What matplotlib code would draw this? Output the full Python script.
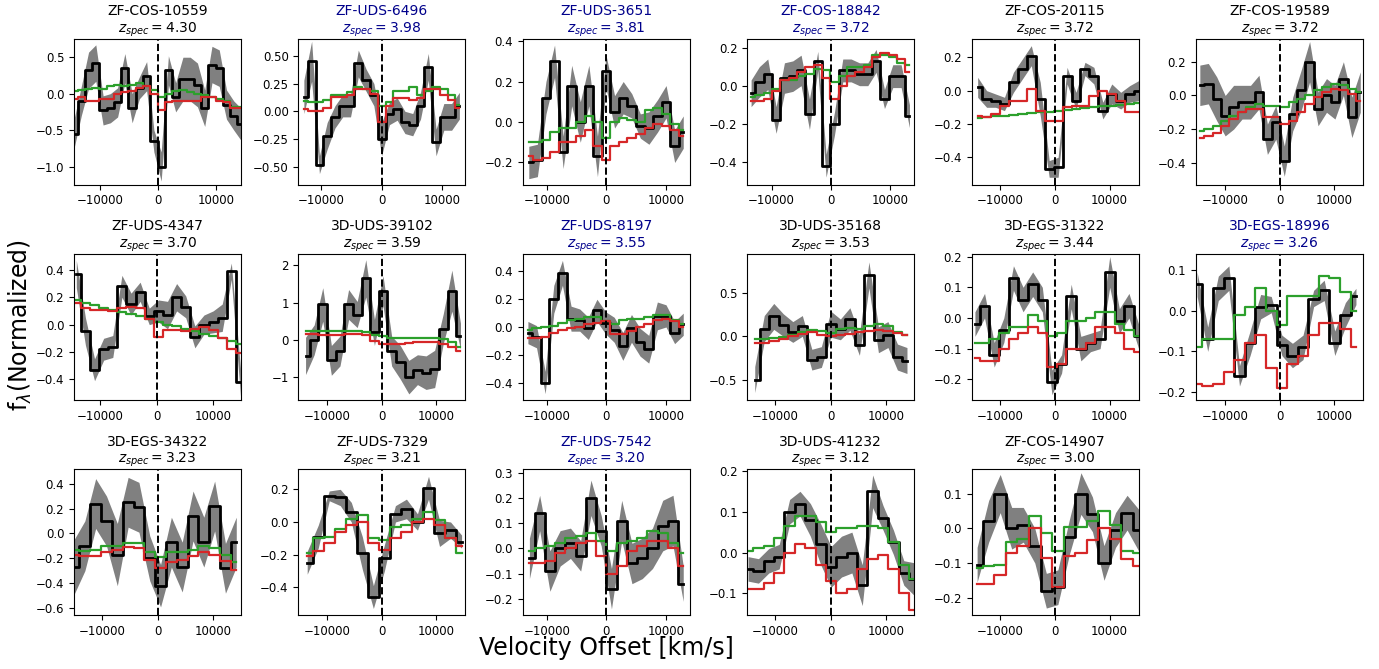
import numpy as np
import matplotlib
matplotlib.use("Agg")
import matplotlib.pyplot as plt

# object names, redshifts, and which ones are highlighted in blue
names = ["ZF-COS-10559", "ZF-UDS-6496", "ZF-UDS-3651", "ZF-COS-18842", "ZF-COS-20115", "ZF-COS-19589",
         "ZF-UDS-4347", "3D-UDS-39102", "ZF-UDS-8197", "3D-UDS-35168", "3D-EGS-31322", "3D-EGS-18996",
         "3D-EGS-34322", "ZF-UDS-7329", "ZF-UDS-7542", "3D-UDS-41232", "ZF-COS-14907"]
zspec = [4.30, 3.98, 3.81, 3.72, 3.72, 3.72, 3.70, 3.59, 3.55, 3.53, 3.44, 3.26, 3.23, 3.21, 3.20, 3.12, 3.00]
highlight = [False, True, True, True, False, False, False, False, True, False, False, True,
             False, False, True, False, False]

# first / last velocity bin of each spectrum [km/s]
v_first = [-14400, -12900, -13000, -13450, -14100, -14700, -14200, -13900, -13150,
           -13650, -14600, -15200, -15000, -13600, -12900, -14850, -14200]
v_last = [14200, 12900, 12900, 13300, 15300, 14900, 14800, 14400, 12900,
          13700, 15300, 14100, 14100, 14600, 12900, 15000, 15300]

# observed stacked flux (black) per object
flux = [
    [-0.55, -0.1, 0.32, 0.42, -0.23, -0.2, -0.12, 0.35, -0.2, 0.08, 0.24, -0.65, -1.0, 0.32, -0.05, 0.2, 0.2, 0.12, -0.2, 0.4, 0.35, -0.15, -0.3, -0.42],
    [0.13, 0.45, -0.48, -0.22, -0.05, 0.05, 0.05, 0.43, 0.28, 0.15, -0.25, -0.02, 0.02, -0.1, -0.12, 0.05, 0.4, -0.28, -0.05, -0.05, 0.05],
    [-0.2, -0.19, 0.12, 0.3, -0.15, 0.18, 0.0, 0.18, -0.17, 0.25, 0.05, 0.12, 0.08, -0.02, -0.03, 0.03, 0.1, -0.12, -0.05],
    [-0.04, 0.02, 0.06, -0.18, 0.04, 0.05, 0.08, -0.15, 0.13, -0.42, -0.2, 0.08, 0.08, 0.06, 0.06, 0.13, -0.07, 0.05, 0.05, -0.16],
    [0.02, -0.05, -0.06, -0.08, 0.05, 0.13, 0.21, -0.05, -0.47, -0.46, 0.09, -0.06, 0.13, 0.09, -0.12, -0.02, -0.06, -0.02, 0.0],
    [0.06, 0.07, -0.02, -0.12, -0.07, -0.04, -0.04, 0.02, -0.26, -0.16, -0.39, -0.11, 0.03, 0.2, -0.08, 0.0, -0.04, 0.1, -0.13, 0.02],
    [0.37, -0.05, -0.33, -0.18, -0.16, 0.28, 0.15, 0.24, 0.06, 0.1, 0.07, 0.2, 0.13, -0.09, 0.0, 0.02, 0.05, 0.39, -0.42],
    [-0.43, 0.0, 0.95, -0.55, -0.3, 0.95, 0.68, 1.65, 0.2, 1.32, -0.3, -0.6, -1.0, -0.8, -0.88, -0.78, 0.3, 1.32, 0.1],
    [-0.04, -0.07, -0.4, 0.2, 0.39, 0.06, 0.05, -0.01, 0.12, 0.03, -0.02, -0.14, -0.01, -0.11, -0.16, 0.08, 0.08, -0.04, 0.02],
    [-0.5, 0.09, 0.23, 0.13, 0.05, 0.12, -0.27, -0.24, 0.14, 0.08, 0.2, -0.1, 0.71, -0.04, 0.02, -0.24, -0.28],
    [-0.02, 0.04, -0.12, -0.04, 0.13, 0.06, 0.11, 0.06, -0.21, -0.15, 0.07, -0.1, -0.08, -0.07, 0.15, -0.01, 0.04, -0.06],
    [0.065, -0.07, 0.055, 0.08, -0.16, -0.08, 0.01, 0.015, -0.085, -0.11, -0.09, 0.03, 0.05, -0.08, -0.01, 0.035],
    [-0.27, -0.1, 0.24, 0.1, -0.17, 0.25, 0.21, -0.2, -0.42, -0.07, -0.27, 0.14, -0.07, 0.22, -0.28, -0.07],
    [-0.25, -0.09, 0.16, 0.15, 0.06, -0.19, -0.46, -0.22, 0.05, 0.08, 0.0, 0.21, -0.07, -0.05, -0.12],
    [-0.04, 0.14, -0.09, 0.0, 0.02, -0.03, 0.2, 0.07, -0.16, 0.11, -0.06, -0.04, 0.0, 0.09, 0.11, -0.14],
    [-0.04, -0.045, -0.02, -0.01, 0.1, 0.12, 0.08, 0.02, -0.035, -0.01, 0.0, -0.08, 0.15, 0.085, 0.025, -0.05, -0.065],
    [-0.105, 0.02, 0.1, 0.0, 0.01, -0.05, -0.18, -0.17, -0.025, 0.1, 0.04, -0.1, -0.005, 0.045, -0.005],
]

# 1-sigma uncertainty of the flux (grey band)
flux_err = [
    [0.2, 0.2, 0.25, 0.25, 0.2, 0.2, 0.2, 0.2, 0.2, 0.15, 0.2, 0.15, 0.2, 0.2, 0.2, 0.3, 0.3, 0.3, 0.25, 0.25, 0.25, 0.2, 0.2, 0.22],
    [0.15, 0.18, 0.08, 0.12, 0.1, 0.1, 0.1, 0.12, 0.1, 0.1, 0.15, 0.1, 0.1, 0.1, 0.1, 0.12, 0.12, 0.12, 0.12, 0.12, 0.12],
    [0.08, 0.08, 0.08, 0.08, 0.08, 0.1, 0.1, 0.1, 0.1, 0.08, 0.08, 0.08, 0.06, 0.06, 0.08, 0.08, 0.08, 0.08, 0.08],
    [0.07, 0.08, 0.08, 0.07, 0.08, 0.08, 0.08, 0.08, 0.05, 0.06, 0.06, 0.06, 0.06, 0.06, 0.06, 0.06, 0.05, 0.06, 0.06, 0.06],
    [0.06, 0.05, 0.04, 0.04, 0.06, 0.06, 0.06, 0.1, 0.05, 0.06, 0.05, 0.05, 0.04, 0.05, 0.05, 0.06, 0.05, 0.05, 0.06],
    [0.12, 0.12, 0.13, 0.12, 0.13, 0.1, 0.1, 0.1, 0.09, 0.1, 0.09, 0.1, 0.12, 0.12, 0.1, 0.1, 0.1, 0.1, 0.12, 0.12],
    [0.1, 0.1, 0.08, 0.08, 0.08, 0.08, 0.08, 0.07, 0.06, 0.08, 0.1, 0.1, 0.08, 0.08, 0.07, 0.08, 0.1, 0.06, 0.1],
    [0.5, 0.4, 0.45, 0.4, 0.4, 0.4, 0.35, 0.5, 0.35, 0.4, 0.4, 0.45, 0.45, 0.4, 0.45, 0.5, 0.4, 0.55, 0.35],
    [0.08, 0.08, 0.08, 0.1, 0.09, 0.09, 0.08, 0.08, 0.08, 0.08, 0.09, 0.1, 0.1, 0.1, 0.1, 0.1, 0.08, 0.08, 0.08],
    [0.15, 0.15, 0.15, 0.13, 0.12, 0.12, 0.12, 0.12, 0.15, 0.12, 0.13, 0.12, 0.15, 0.15, 0.15, 0.15, 0.15],
    [0.04, 0.04, 0.04, 0.04, 0.04, 0.04, 0.04, 0.04, 0.04, 0.03, 0.04, 0.04, 0.03, 0.03, 0.05, 0.04, 0.04, 0.04],
    [0.03, 0.03, 0.03, 0.03, 0.025, 0.03, 0.03, 0.02, 0.025, 0.03, 0.03, 0.02, 0.025, 0.03, 0.03, 0.02],
    [0.22, 0.2, 0.2, 0.2, 0.25, 0.2, 0.2, 0.18, 0.17, 0.2, 0.2, 0.2, 0.2, 0.2, 0.2, 0.2],
    [0.07, 0.07, 0.03, 0.05, 0.06, 0.1, 0.07, 0.08, 0.05, 0.06, 0.05, 0.07, 0.08, 0.05, 0.04],
    [0.08, 0.07, 0.08, 0.07, 0.06, 0.06, 0.07, 0.06, 0.08, 0.08, 0.08, 0.08, 0.08, 0.1, 0.1, 0.07],
    [0.03, 0.03, 0.03, 0.03, 0.03, 0.03, 0.04, 0.05, 0.05, 0.05, 0.05, 0.05, 0.04, 0.03, 0.03, 0.03, 0.04],
    [0.05, 0.06, 0.055, 0.06, 0.05, 0.05, 0.05, 0.05, 0.05, 0.06, 0.05, 0.05, 0.05, 0.05, 0.06],
]

# model spectra (green / red)
model_green = [
    [0.03, 0.05, 0.07, 0.08, 0.07, 0.1, 0.12, 0.1, 0.12, 0.15, 0.1, 0.05, -0.05, 0.0, 0.03, 0.05, 0.02, 0.0, -0.02, -0.05, -0.08, -0.1, -0.18, -0.18],
    [0.09, 0.08, 0.08, 0.1, 0.15, 0.15, 0.17, 0.22, 0.2, 0.18, 0.05, 0.08, 0.18, 0.18, 0.22, 0.15, 0.18, 0.22, 0.2, 0.15, 0.06],
    [-0.1, -0.1, -0.09, -0.05, -0.03, -0.03, 0.0, 0.03, 0.0, -0.08, 0.0, 0.02, 0.01, 0.0, 0.06, 0.07, 0.04, -0.01, -0.04],
    [-0.06, -0.05, -0.04, -0.02, 0.03, 0.03, 0.05, 0.06, 0.09, 0.08, 0.02, 0.05, 0.1, 0.1, 0.11, 0.16, 0.16, 0.15, 0.12, 0.11],
    [-0.165, -0.16, -0.155, -0.15, -0.145, -0.14, -0.135, -0.13, -0.13, -0.12, -0.115, -0.11, -0.105, -0.1, -0.095, -0.09, -0.085, -0.08, -0.075],
    [-0.21, -0.2, -0.18, -0.15, -0.12, -0.1, -0.07, -0.05, -0.06, -0.06, -0.07, -0.04, -0.02, 0.0, 0.03, 0.05, 0.07, 0.06, 0.04, 0.02],
    [0.18, 0.16, 0.14, 0.12, 0.11, 0.09, 0.08, 0.06, 0.04, 0.02, 0.0, -0.01, -0.03, -0.05, -0.07, -0.08, -0.1, -0.12, -0.14],
    [0.25, 0.25, 0.24, 0.24, 0.24, 0.25, 0.24, 0.22, 0.12, 0.1, 0.06, 0.05, 0.04, 0.04, 0.05, 0.05, 0.02, -0.05, -0.2],
    [-0.02, -0.01, 0.0, 0.01, 0.03, 0.05, 0.06, 0.07, 0.07, 0.04, 0.02, 0.05, 0.06, 0.06, 0.07, 0.09, 0.09, 0.05, 0.02],
    [-0.03, -0.03, -0.02, -0.01, 0.02, 0.05, 0.07, 0.06, 0.04, 0.08, 0.1, 0.08, 0.12, 0.14, 0.12, 0.05, 0.02],
    [-0.08, -0.08, -0.07, -0.05, -0.03, -0.03, 0.01, -0.01, -0.06, -0.05, -0.01, -0.01, 0.0, 0.02, 0.02, -0.02, -0.04, -0.06],
    [-0.09, -0.07, -0.07, -0.07, -0.01, 0.01, 0.055, 0.0, -0.035, 0.035, 0.035, 0.035, 0.085, 0.08, 0.045, 0.0],
    [-0.13, -0.14, -0.13, -0.1, -0.1, -0.08, -0.08, -0.15, -0.19, -0.15, -0.15, -0.13, -0.1, -0.12, -0.17, -0.23],
    [-0.19, -0.1, -0.09, -0.04, 0.02, 0.04, -0.1, -0.11, -0.03, -0.02, 0.02, 0.06, 0.01, -0.1, -0.19],
    [-0.01, 0.0, 0.01, 0.02, 0.04, 0.05, 0.06, 0.03, -0.01, 0.02, 0.03, 0.04, 0.07, 0.06, 0.02, -0.02],
    [0.005, 0.01, 0.015, 0.035, 0.065, 0.09, 0.09, 0.075, 0.05, 0.06, 0.06, 0.065, 0.065, 0.06, 0.025, -0.03, -0.065],
    [-0.115, -0.11, -0.105, -0.04, -0.03, 0.035, -0.015, -0.065, 0.005, 0.005, 0.02, 0.05, 0.01, -0.065, -0.07],
]

model_red = [
    [-0.07, -0.05, -0.1, -0.1, -0.08, -0.08, 0.0, 0.02, 0.03, 0.08, 0.1, 0.0, -0.22, -0.12, -0.1, -0.1, -0.1, -0.1, -0.05, -0.05, -0.1, -0.12, -0.2, -0.2],
    [0.02, 0.0, 0.0, 0.03, 0.13, 0.13, 0.15, 0.2, 0.2, 0.16, -0.1, 0.05, 0.12, 0.12, 0.1, 0.12, 0.2, 0.2, 0.15, 0.1, 0.03],
    [-0.17, -0.19, -0.18, -0.15, -0.1, -0.1, -0.07, -0.04, -0.12, -0.19, -0.12, -0.1, -0.08, -0.06, -0.03, -0.01, -0.02, -0.04, -0.07],
    [-0.08, -0.08, -0.07, -0.03, 0.03, 0.04, 0.07, 0.1, 0.11, 0.04, -0.07, 0.0, 0.05, 0.07, 0.1, 0.15, 0.17, 0.16, 0.14, 0.07],
    [-0.15, -0.16, -0.14, -0.09, -0.06, -0.06, 0.01, -0.12, -0.18, -0.18, -0.1, -0.09, -0.09, -0.03, 0.0, -0.02, -0.06, -0.13, -0.13],
    [-0.25, -0.24, -0.22, -0.18, -0.14, -0.1, -0.08, -0.08, -0.13, -0.13, -0.17, -0.15, -0.1, -0.05, -0.01, 0.02, 0.04, 0.03, 0.01, -0.03],
    [0.16, 0.12, 0.11, 0.11, 0.1, 0.12, 0.13, 0.12, 0.04, -0.09, -0.04, -0.04, -0.05, -0.03, -0.02, -0.04, -0.1, -0.18, -0.21],
    [0.15, 0.15, 0.13, 0.13, 0.14, 0.16, 0.16, 0.13, -0.03, -0.12, -0.12, -0.1, -0.08, -0.05, -0.05, -0.05, -0.1, -0.2, -0.3],
    [-0.08, -0.08, -0.07, -0.04, -0.02, -0.01, 0.0, 0.02, 0.03, 0.04, -0.05, -0.05, -0.03, 0.0, 0.02, 0.05, 0.06, 0.04, 0.0],
    [-0.08, -0.08, -0.06, -0.03, 0.0, 0.03, 0.05, 0.02, 0.0, 0.02, 0.03, 0.05, 0.06, 0.07, 0.06, 0.04, 0.02],
    [-0.13, -0.14, -0.14, -0.1, -0.07, -0.05, -0.03, -0.05, -0.16, -0.15, -0.1, -0.1, -0.08, -0.03, -0.03, -0.05, -0.1, -0.11],
    [-0.18, -0.185, -0.18, -0.15, -0.12, -0.08, -0.06, -0.14, -0.19, -0.13, -0.11, -0.06, -0.03, -0.03, -0.045, -0.09],
    [-0.17, -0.18, -0.18, -0.15, -0.13, -0.11, -0.12, -0.21, -0.28, -0.23, -0.21, -0.18, -0.15, -0.17, -0.22, -0.29],
    [-0.21, -0.18, -0.13, -0.06, -0.02, 0.0, -0.13, -0.17, -0.1, -0.06, 0.0, 0.02, -0.02, -0.1, -0.15],
    [-0.06, -0.06, -0.05, -0.02, 0.0, 0.02, 0.03, -0.03, -0.1, -0.07, -0.01, 0.01, 0.03, 0.03, 0.0, -0.07],
    [-0.09, -0.09, -0.075, -0.05, 0.0, 0.02, 0.01, -0.03, -0.07, -0.1, -0.09, -0.04, -0.015, -0.005, -0.04, -0.1, -0.14],
    [-0.16, -0.16, -0.135, -0.07, -0.05, 0.0, -0.085, -0.17, -0.08, -0.07, -0.035, 0.0, -0.03, -0.09, -0.11],
]

# axis ranges and y ticks per panel
x_limits = [(-14400, 14200), (-13800, 13900), (-14000, 14000), (-14100, 14100), (-15200, 15300),
            (-15400, 15400), (-14600, 14900), (-15200, 15300), (-14000, 14000), (-15000, 15000),
            (-15200, 15300), (-15400, 15400), (-15000, 14950), (-15200, 15300), (-14000, 14000),
            (-15000, 15000), (-15200, 15300)]
y_limits = [(-1.25, 0.75), (-0.66, 0.65), (-0.31, 0.41), (-0.52, 0.245), (-0.565, 0.31),
            (-0.53, 0.335), (-0.55, 0.515), (-1.61, 2.3), (-0.525, 0.525), (-0.735, 0.95),
            (-0.267, 0.208), (-0.219, 0.139), (-0.655, 0.515), (-0.57, 0.323), (-0.264, 0.313),
            (-0.153, 0.204), (-0.25, 0.17)]
y_ticks = [[-1.0, -0.5, 0.0, 0.5], [-0.5, -0.25, 0.0, 0.25, 0.5], [-0.2, 0.0, 0.2, 0.4],
           [-0.4, -0.2, 0.0, 0.2], [-0.4, -0.2, 0.0, 0.2], [-0.4, -0.2, 0.0, 0.2],
           [-0.4, -0.2, 0.0, 0.2, 0.4], [-1, 0, 1, 2], [-0.4, -0.2, 0.0, 0.2, 0.4],
           [-0.5, 0.0, 0.5], [-0.2, -0.1, 0.0, 0.1, 0.2], [-0.2, -0.1, 0.0, 0.1],
           [-0.6, -0.4, -0.2, 0.0, 0.2, 0.4], [-0.4, -0.2, 0.0, 0.2],
           [-0.2, -0.1, 0.0, 0.1, 0.2, 0.3], [-0.1, 0.0, 0.1, 0.2], [-0.2, -0.1, 0.0, 0.1]]

fig, axes = plt.subplots(3, 6, figsize=(13.79, 6.69), dpi=100)
fig.subplots_adjust(left=0.0537, right=0.9884, bottom=0.0807, top=0.9417, wspace=0.344, hspace=0.476)
axes = axes.ravel()

for i in range(len(names)):
    ax = axes[i]
    f = np.array(flux[i])
    e = np.array(flux_err[i])
    v = np.linspace(v_first[i], v_last[i], len(f))

    ax.fill_between(v, f - e, f + e, color="grey", linewidth=0)
    ax.step(v, f, where="mid", color="black", lw=2)
    ax.step(v, model_green[i], where="mid", color="#2ca02c", lw=1.6)
    ax.step(v, model_red[i], where="mid", color="#d62728", lw=1.6)
    ax.axvline(0, color="black", ls="--", lw=1.4, zorder=5)

    ax.set_xlim(x_limits[i])
    ax.set_ylim(y_limits[i])
    ax.set_xticks([-10000, 0, 10000])
    ax.set_yticks(y_ticks[i])
    ax.tick_params(labelsize=8.5)

    tcolor = "darkblue" if highlight[i] else "black"
    ax.set_title(names[i] + "\n" + r"$z_{spec} = %.2f$" % zspec[i], fontsize=10, color=tcolor, pad=4)

axes[-1].axis("off")

fig.text(606 / 1379, 1 - 648 / 669, "Velocity Offset [km/s]", fontsize=17, ha="center", va="center")
fig.text(20 / 1379, 1 - 325 / 669, r"f$_\lambda$(Normalized)", fontsize=17, rotation=90,
         ha="center", va="center")

fig.savefig("out.png", dpi=100)
